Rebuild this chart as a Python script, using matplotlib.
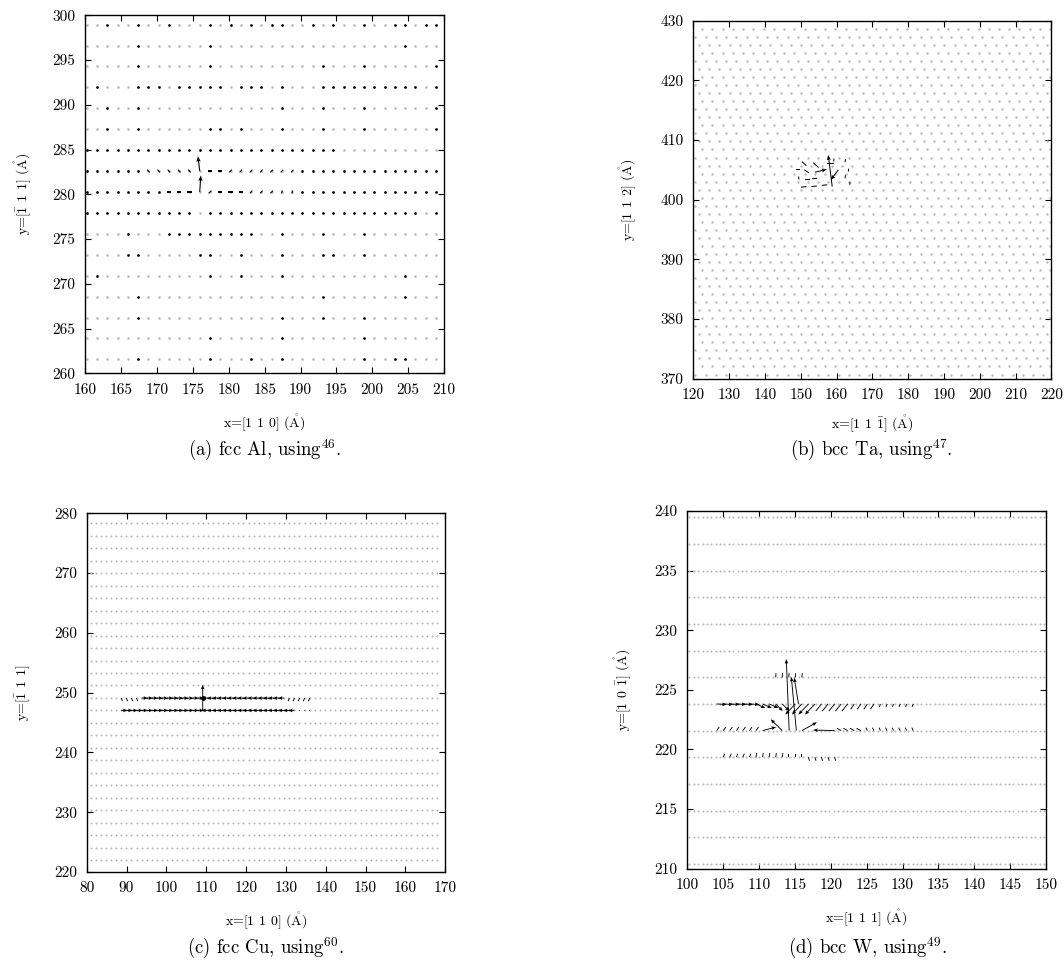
import numpy as np
import matplotlib
matplotlib.use("Agg")
import matplotlib.pyplot as plt

plt.rcParams["font.family"] = ["cmr10", "DejaVu Serif"]
plt.rcParams["mathtext.fontset"] = "cm"
plt.rcParams["axes.unicode_minus"] = False

GREY = "#b8b8b8"

# ---------------- (a) fcc Al ----------------
al_rows = [298.96, 296.62, 294.28, 291.95, 289.61, 287.27, 284.93, 282.60, 280.26,
           277.92, 275.58, 273.25, 270.91, 268.57, 266.23, 263.89, 261.56]
al_x0, al_step, al_ncol = 160.2, 1.432, 35
# sites with a small (dot-like) displacement, column indices per row
al_black = [
    [2, 5, 8, 12, 14, 16, 18, 19, 22, 24, 27, 30, 31, 33, 34],
    [5, 12, 31],
    [5, 12, 23, 27, 34],
    [1, 5, 6, 7, 9, 10, 11, 12, 13, 15, 16, 17, 19, 23, 24, 25, 26, 27, 28, 29, 30, 31, 32, 34],
    [2, 5, 19, 23, 27, 34],
    [2, 5, 12, 13, 15, 19, 23, 27, 34],
    [0, 1, 2, 3, 4, 5, 6, 7, 8, 9, 10, 11, 12, 13, 14, 15, 16, 17, 18, 19, 20, 21, 22, 23, 24],
    [0, 1, 2, 3, 4, 5, 21, 22, 23, 24, 25, 26, 27, 28, 29, 30, 31, 32, 33, 34],
    [0, 1, 2, 3, 4, 5, 6, 7, 21, 22, 23, 24, 25, 26, 27, 28, 29, 30, 31, 32, 33, 34],
    [0, 1, 2, 3, 4, 5, 6, 7, 8, 9, 10, 12, 13, 14, 15, 16, 17, 18, 19, 20, 21, 22, 23, 24,
     25, 26, 27, 28, 29, 30, 31, 32, 34],
    [4, 8, 9, 10, 11, 12, 13, 14, 15, 16, 19, 23, 27],
    [4, 5, 11, 12, 15, 19, 23, 24, 27],
    [1, 12, 15, 19, 31],
    [5, 23, 31],
    [5, 19, 23, 27],
    [12, 19, 27],
    [5, 12, 16, 19, 27, 30, 31],
]
# short displacement dashes: row index, first col, last col, u, v
al_d_row = [7, 7, 7, 8, 8, 8, 8, 8]
al_d_c0 = [6, 12, 14, 8, 12, 13, 16, 19]
al_d_c1 = [10, 13, 20, 10, 12, 15, 18, 20]
al_d_u = [0.35, 0.55, 0.35, 0.6, 0.4, 0.6, 0.35, 0.1]
al_d_v = [-0.3, 0.0, 0.3, 0.0, 0.3, 0.0, 0.3, 0.35]
# large displacements
al_ax = [175.95, 175.95]
al_ay = [280.26, 282.60]
al_au = [0.15, -0.25]
al_av = [1.85, 1.65]

# ---------------- (b) bcc Ta ----------------
ta_y0, ta_ystep, ta_nrow = 370.7, 1.347, 44
ta_x0, ta_step, ta_ncol = 120.6, 2.858, 35
ta_shift = [0.0, 1.905, 0.953]
ta_dx = [150.3, 153.5, 151.0, 148.7, 149.4, 150.1, 153.0, 155.9, 151.3, 153.2,
         157.3, 159.2, 162.4, 163.3, 162.4, 163.7]
ta_dy = [406.4, 406.2, 405.0, 405.0, 403.9, 402.1, 402.2, 402.4, 403.4, 403.5,
         406.1, 406.4, 406.3, 404.7, 403.6, 402.5]
ta_du = [1.3, 1.5, 1.3, 1.2, 0.1, 1.5, 1.5, 1.5, 1.4, 1.4, 1.9, 0.1, 0.1, 0.1, 0.1, 0.1]
ta_dv = [-0.7, -0.8, -0.5, 0.0, -0.5, 0.1, 0.1, 0.1, 0.0, 0.1, 0.0, 0.5, 0.5, 0.5, 0.5, 0.5]
ta_ax = [158.8, 160.5, 154.0]
ta_ay = [402.2, 405.0, 404.6]
ta_au = [-1.1, -2.1, 3.3]
ta_av = [5.3, -1.7, 0.5]

# ---------------- (c) fcc Cu ----------------
cu_ytop, cu_ystep, cu_nrow = 278.33, 2.087, 29
cu_x0, cu_step, cu_ncol = 81.0, 1.278, 69
cu_g_row = [14, 14, 14, 14, 15, 15, 15]
cu_g_c0 = [6, 10, 23, 39, 6, 23, 41]
cu_g_c1 = [9, 21, 38, 43, 21, 40, 43]
cu_g_u = [0.3, 1.6, -1.6, -0.3, 1.6, -1.6, 0.05]
cu_g_v = [-0.55, -0.05, -0.05, -0.55, 0.0, 0.0, 0.05]
cu_g_head = [False, True, True, False, True, True, False]
cu_ax = [109.12]
cu_ay = [247.02]
cu_au = [0.0]
cu_av = [4.3]

# ---------------- (d) bcc W ----------------
w_ytop, w_ystep, w_nrow = 239.47, 2.236, 14
w_x0, w_step, w_ncol = 100.3, 0.61, 82
w_s0, w_sstep = 104.1, 0.913
w_g_y = [223.82, 223.82, 223.82, 223.82, 223.82, 223.82, 223.82,
         221.58, 221.58, 221.58, 221.58, 221.58, 221.58, 221.58,
         226.05, 219.35, 219.35, 219.35, 219.35]
w_g_j0 = [0, 6, 9, 12, 16, 21, 25, 0, 7, 10, 13, 18, 19, 23, 9, 1, 6, 11, 14]
w_g_j1 = [5, 8, 10, 15, 20, 24, 30, 6, 7, 10, 13, 18, 22, 30, 13, 5, 10, 13, 18]
w_g_u = [1.4, 1.3, 1.0, -1.4, -0.8, -0.5, -0.15, 0.35, 1.9, -1.6, 2.1, -3.0, -0.6, -0.2,
         0.05, 0.2, 0.1, 0.0, 0.15]
w_g_v = [-0.05, -0.35, -0.6, -0.9, -0.6, -0.45, -0.25, 0.3, 0.3, 0.95, 0.7, 0.05, 0.2, 0.25,
         0.35, 0.3, 0.35, 0.3, -0.3]
w_g_head = [True, True, True, True, False, False, False, False, True, True, True, True, False,
            False, False, False, False, False, False]
w_ax = [114.2, 115.2, 115.5]
w_ay = [221.58, 221.58, 223.82]
w_au = [-0.4, -0.7, -0.6]
w_av = [6.0, 4.5, 2.2]

ANG = r"$\mathring{\mathrm{A}}$"
BAR1 = r"$\bar{1}$"
xlabels = ["x=[1 1 0] (" + ANG + ")", "x=[1 1 " + BAR1 + "] (" + ANG + ")",
           "x=[1 1 0] (" + ANG + ")", "x=[1 1 1] (" + ANG + ")"]
ylabels = ["y=[" + BAR1 + " 1 1] (" + ANG + ")", "y=[1 1 2] (" + ANG + ")",
           "y=[" + BAR1 + " 1 1]", "y=[1 0 " + BAR1 + "] (" + ANG + ")"]
captions = [r"(a) fcc Al, using$^{46}$.", r"(b) bcc Ta, using$^{47}$.",
            r"(c) fcc Cu, using$^{60}$.", r"(d) bcc W, using$^{49}$."]


def arrows(ax, x, y, u, v, head=True, width=0.9):
    if len(x) == 0:
        return
    if head:
        ax.quiver(x, y, u, v, angles="xy", scale_units="xy", scale=1, units="dots",
                  width=width, headwidth=4, headlength=5, headaxislength=4.5,
                  color="k", zorder=4)
    else:
        ax.quiver(x, y, u, v, angles="xy", scale_units="xy", scale=1, units="dots",
                  width=width, headwidth=1, headlength=0, headaxislength=0,
                  color="k", zorder=4)


def style(ax, xlim, ylim, xt, yt, xlabel, ylabel, ylab_x, xlab_y=-0.137):
    ax.set_xlim(*xlim)
    ax.set_ylim(*ylim)
    ax.set_xticks(xt)
    ax.set_yticks(yt)
    ax.tick_params(direction="in", length=4, width=0.8, top=True, right=True,
                   labelsize=11, pad=7)
    for s in ax.spines.values():
        s.set_linewidth(1.0)
    ax.set_xlabel(xlabel, fontsize=10, va="center")
    ax.set_ylabel(ylabel, fontsize=10, va="center")
    ax.xaxis.set_label_coords(0.5, xlab_y)
    ax.yaxis.set_label_coords(ylab_x, 0.5)


fig = plt.figure(figsize=(10.64, 9.8), dpi=100)
W, H = 1064, 980


def make_ax(left, top, right, bottom):
    return fig.add_axes([left / W, 1 - bottom / H, (right - left) / W, (bottom - top) / H])


# ---- (a)
ax = make_ax(85.3, 15.3, 444.0, 373.3)
gx, gy = np.meshgrid(al_x0 + al_step * np.arange(al_ncol), al_rows)
ax.scatter(gx.ravel(), gy.ravel(), s=3.5, color=GREY, linewidths=0, zorder=2)
bx, by = [], []
for r, cols in enumerate(al_black):
    for c in cols:
        bx.append(al_x0 + al_step * c)
        by.append(al_rows[r])
ax.scatter(bx, by, s=3.5, color="k", linewidths=0, zorder=3)
dx, dy, du, dv = [], [], [], []
for r, c0, c1, u, v in zip(al_d_row, al_d_c0, al_d_c1, al_d_u, al_d_v):
    for c in range(c0, c1 + 1):
        dx.append(al_x0 + al_step * c - u / 2)
        dy.append(al_rows[r] - v / 2)
        du.append(u)
        dv.append(v)
arrows(ax, dx, dy, du, dv, head=False, width=1.1)
arrows(ax, al_ax, al_ay, al_au, al_av, width=1.1)
style(ax, (160, 210), (260, 300), range(160, 211, 5), range(260, 301, 5),
      xlabels[0], ylabels[0], -0.174)

# ---- (b)
ax = make_ax(693.3, 20.7, 1051.3, 378.7)
px, py = [], []
for k in range(ta_nrow):
    y = ta_y0 + k * ta_ystep
    xs = ta_x0 + ta_shift[k % 3] + ta_step * np.arange(-1, ta_ncol)
    px.extend(xs)
    py.extend([y] * len(xs))
ax.scatter(px, py, s=3.0, color=GREY, linewidths=0, zorder=2)
arrows(ax, ta_dx, ta_dy, ta_du, ta_dv, head=False, width=1.0)
arrows(ax, ta_ax, ta_ay, ta_au, ta_av, width=1.0)
style(ax, (120, 220), (370, 430), range(120, 221, 10), range(370, 431, 10),
      xlabels[1], ylabels[1], -0.182, xlab_y=-0.125)

# ---- (c)
ax = make_ax(86.7, 513.3, 445.3, 872.0)
cu_rows = cu_ytop - cu_ystep * np.arange(cu_nrow)
gx, gy = np.meshgrid(cu_x0 + cu_step * np.arange(cu_ncol), cu_rows)
ax.scatter(gx.ravel(), gy.ravel(), s=2.2, color=GREY, linewidths=0, zorder=2)
for r, c0, c1, u, v, hd in zip(cu_g_row, cu_g_c0, cu_g_c1, cu_g_u, cu_g_v, cu_g_head):
    cols = np.arange(c0, c1 + 1)
    xs = cu_x0 + cu_step * cols
    ys = np.full(len(cols), cu_rows[r])
    arrows(ax, xs, ys, np.full(len(cols), u), np.full(len(cols), v), head=hd, width=0.9)
ax.scatter([cu_ax[0]], [cu_rows[14]], s=6, color="k", zorder=5)
arrows(ax, cu_ax, cu_ay, cu_au, cu_av, width=0.9)
style(ax, (80, 170), (220, 280), range(80, 171, 10), range(220, 281, 10),
      xlabels[2], ylabels[2], -0.18)

# ---- (d)
ax = make_ax(687.3, 511.0, 1046.0, 868.7)
w_rows = w_ytop - w_ystep * np.arange(w_nrow)
gx, gy = np.meshgrid(w_x0 + w_step * np.arange(w_ncol), w_rows)
ax.scatter(gx.ravel(), gy.ravel(), s=2.2, color=GREY, linewidths=0, zorder=2)
for y, j0, j1, u, v, hd in zip(w_g_y, w_g_j0, w_g_j1, w_g_u, w_g_v, w_g_head):
    js = np.arange(j0, j1 + 1)
    xs = w_s0 + w_sstep * js
    arrows(ax, xs, np.full(len(js), y), np.full(len(js), u), np.full(len(js), v),
           head=hd, width=0.9)
arrows(ax, w_ax, w_ay, w_au, w_av, width=0.9)
style(ax, (100, 150), (210, 240), range(100, 151, 5), range(210, 241, 5),
      xlabels[3], ylabels[3], -0.179)

# captions
fig.text(265 / W, 1 - 450 / H, captions[0], ha="center", va="center", fontsize=13.5)
fig.text(871 / W, 1 - 450 / H, captions[1], ha="center", va="center", fontsize=13.5)
fig.text(265 / W, 1 - 948 / H, captions[2], ha="center", va="center", fontsize=13.5)
fig.text(867 / W, 1 - 948 / H, captions[3], ha="center", va="center", fontsize=13.5)

fig.savefig("out.png", dpi=100)
